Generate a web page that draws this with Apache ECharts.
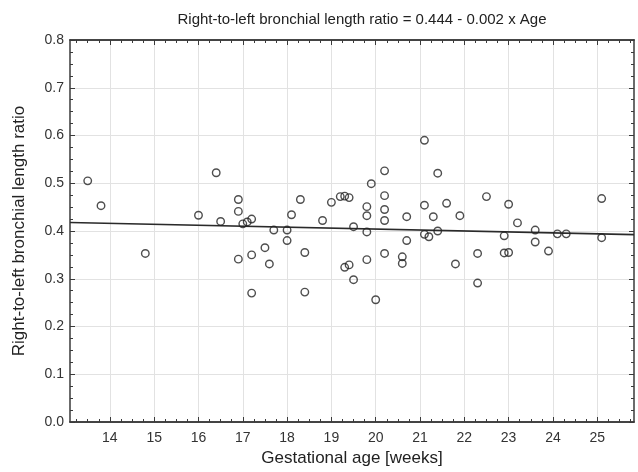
<!DOCTYPE html>
<html>
<head>
<meta charset="utf-8">
<title>Right-to-left bronchial length ratio</title>
<script src="https://cdn.jsdelivr.net/npm/echarts@6/dist/echarts.min.js"></script>
<style>
  html, body { margin: 0; padding: 0; background: #fff; }
  #chart { width: 638px; height: 472px; }
</style>
</head>
<body>
<div id="chart"></div>
<script>
// Gestational age (weeks) of each specimen
const ages = [
  13.5, 13.8, 14.8, 16.0, 16.4, 16.5, 16.9, 16.9, 17.0, 16.9,
  17.1, 17.2, 17.2, 17.2, 17.5, 17.6, 17.7, 18.0, 18.0, 18.1,
  18.3, 18.4, 18.4, 18.8, 19.0, 19.2, 19.3, 19.4, 19.3, 19.4,
  19.5, 19.5, 19.8, 19.8, 19.8, 19.8, 19.9, 20.0, 20.2, 20.2,
  20.2, 20.2, 20.2, 20.6, 20.6, 20.7, 20.7, 21.1, 21.4, 21.1,
  21.3, 21.6, 21.9, 22.5, 23.0, 23.2, 23.6, 24.1, 24.3, 25.1,
  25.1, 22.3, 22.3, 21.8, 22.9, 22.9, 23.0, 23.6, 23.9, 21.1,
  21.2, 21.4
];
// Right-to-left bronchial length ratio of each specimen
const ratios = [
  0.505, 0.453, 0.353, 0.433, 0.522, 0.420, 0.466, 0.441, 0.415, 0.341,
  0.419, 0.425, 0.350, 0.270, 0.365, 0.331, 0.402, 0.402, 0.380, 0.434,
  0.466, 0.355, 0.272, 0.422, 0.460, 0.472, 0.473, 0.470, 0.324, 0.329,
  0.409, 0.298, 0.451, 0.432, 0.398, 0.340, 0.499, 0.256, 0.526, 0.474,
  0.445, 0.422, 0.353, 0.346, 0.332, 0.430, 0.380, 0.590, 0.521, 0.454,
  0.430, 0.458, 0.432, 0.472, 0.456, 0.417, 0.402, 0.394, 0.394, 0.468,
  0.386, 0.353, 0.291, 0.331, 0.390, 0.354, 0.355, 0.377, 0.358, 0.393,
  0.388, 0.400
];
// Fitted regression: ratio = 0.444 - 0.002 x Age
const fitIntercept = 0.444;
const fitSlope = -0.002;

// Axis ranges and tick labels
const xRange = [13.1, 25.83];
const xTickLabels = [14, 15, 16, 17, 18, 19, 20, 21, 22, 23, 24, 25];
const yRange = [0, 0.8];
const yStep = 0.1;

const points = ages.map((a, i) => [a, ratios[i]]);
const fitLine = xRange.map(x => [x, fitIntercept + fitSlope * x]);

// quarter-week minor ticks
const xMinorTicks = [];
for (let v = Math.ceil(xRange[0] * 4) / 4; v <= xRange[1] + 1e-9; v += 0.25) {
  if (Math.abs(v - Math.round(v)) > 1e-6) xMinorTicks.push(+v.toFixed(2));
}

const FONT = 'Liberation Sans, Arial, sans-serif';
const FRAME = { show: true, onZero: false, lineStyle: { color: '#3a3a3a', width: 1.5 } };
const GRIDLINE = { show: true, lineStyle: { color: '#e2e2e2', width: 1 } };

function xAxisDef(position, ticks, tickLen, withLabels, withGrid) {
  return {
    type: 'value', position, min: xRange[0], max: xRange[1],
    axisLine: FRAME,
    axisTick: { show: true, inside: true, length: tickLen, customValues: ticks,
                lineStyle: { color: '#3a3a3a', width: 1 } },
    axisLabel: withLabels
      ? { show: true, customValues: xTickLabels, color: '#333', fontSize: 14,
          fontFamily: FONT, margin: 9 }
      : { show: false },
    splitLine: withGrid ? GRIDLINE : { show: false }
  };
}

function yAxisDef(position, withLabels) {
  return {
    type: 'value', position, min: yRange[0], max: yRange[1], interval: yStep,
    axisLine: FRAME,
    axisTick: { show: true, inside: true, length: 5, lineStyle: { color: '#3a3a3a', width: 1 } },
    minorTick: { show: true, splitNumber: 4, length: 3, lineStyle: { color: '#3a3a3a', width: 1 } },
    axisLabel: withLabels
      ? { show: true, color: '#333', fontSize: 14, fontFamily: FONT, margin: 6,
          formatter: v => v.toFixed(1) }
      : { show: false },
    splitLine: withLabels ? GRIDLINE : { show: false },
    name: withLabels ? 'Right-to-left bronchial length ratio' : '',
    nameLocation: 'middle',
    nameGap: 42,
    nameTextStyle: { color: '#222', fontSize: 17, fontFamily: FONT }
  };
}

const xMain = xAxisDef('bottom', xTickLabels, 5, true, true);
xMain.name = 'Gestational age [weeks]';
xMain.nameLocation = 'middle';
xMain.nameGap = 28;
xMain.nameTextStyle = { color: '#222', fontSize: 17, fontFamily: FONT };

const chart = echarts.init(document.getElementById('chart'), null, { renderer: 'canvas' });
chart.setOption({
  animation: false,
  backgroundColor: '#fff',
  title: {
    text: 'Right-to-left bronchial length ratio = 0.444 - 0.002 x Age',
    left: 362, top: 12, padding: 0, textAlign: 'center',
    textStyle: { color: '#222', fontSize: 15, fontWeight: 'normal', fontFamily: FONT }
  },
  grid: { left: 70, right: 4, top: 40, bottom: 47, containLabel: false },
  xAxis: [
    xMain,
    xAxisDef('top', xTickLabels, 5, false, false),
    xAxisDef('bottom', xMinorTicks, 3, false, false),
    xAxisDef('top', xMinorTicks, 3, false, false)
  ],
  yAxis: [yAxisDef('left', true), yAxisDef('right', false)],
  series: [
    {
      type: 'line', data: fitLine, xAxisIndex: 0, yAxisIndex: 0,
      showSymbol: false, symbol: 'none', silent: true,
      lineStyle: { color: '#2a2a2a', width: 1.6 }, z: 3
    },
    {
      type: 'scatter', data: points, xAxisIndex: 0, yAxisIndex: 0,
      symbol: 'circle', symbolSize: 7.5,
      itemStyle: { color: 'rgba(0,0,0,0)', borderColor: '#222', borderWidth: 1.4 },
      z: 4
    }
  ]
});
</script>
</body>
</html>
